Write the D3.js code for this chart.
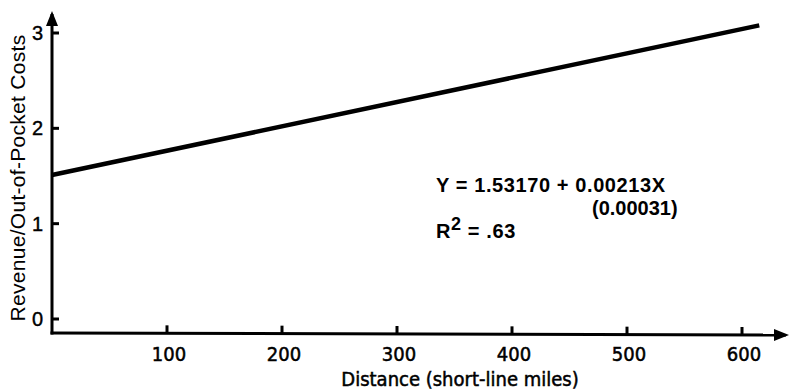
<!DOCTYPE html>
<html>
<head>
<meta charset="utf-8">
<script src="https://cdn.jsdelivr.net/npm/d3@7"></script>
<style>
  body { margin: 0; background: #fff; }
  text { fill: #000; }
</style>
</head>
<body>
<script>
// data
var xTicks = [100, 200, 300, 400, 500, 600];
var yTicks = [0, 1, 2, 3];
var fitLine = [[0, 1.51], [615, 3.08]]; // drawn regression line (distance, ratio)
var eqLines = ["Y = 1.53170 + 0.00213X", "(0.00031)"];
var r2Text = ".63";

var w = 789, h = 391;
var ox = 52, oy = 333; // axis origin

var svg = d3.select("body").append("svg")
  .attr("width", w)
  .attr("height", h);

var x = d3.scaleLinear().domain([0, 600]).range([ox, 742]);
var y = d3.scaleLinear().domain([0, 3]).range([319, 33]);

var tickFont = "'Liberation Sans Narrow', 'DejaVu Sans Condensed', Arial, sans-serif";
var bodyFont = "'Liberation Sans', Arial, Helvetica, sans-serif";

// arrow heads
var defs = svg.append("defs");
defs.append("marker")
  .attr("id", "arrow")
  .attr("viewBox", "0 0 10 10")
  .attr("refX", 8).attr("refY", 5)
  .attr("markerWidth", 5).attr("markerHeight", 5)
  .attr("markerUnits", "strokeWidth")
  .attr("orient", "auto")
  .append("path")
  .attr("d", "M0,1 L10,5 L0,9 Z")
  .attr("fill", "#000");

// axes
svg.append("line")
  .attr("x1", ox).attr("y1", oy + 1.5)
  .attr("x2", ox).attr("y2", 14)
  .attr("stroke", "#000").attr("stroke-width", 3)
  .attr("marker-end", "url(#arrow)");
svg.append("line")
  .attr("x1", ox - 1.5).attr("y1", oy)
  .attr("x2", 786).attr("y2", oy + 2)
  .attr("stroke", "#000").attr("stroke-width", 3)
  .attr("marker-end", "url(#arrow)");

// y ticks
svg.selectAll(".ytick").data(yTicks).enter().append("line")
  .attr("class", "ytick")
  .attr("x1", ox).attr("x2", ox + 7)
  .attr("y1", function(d) { return y(d); })
  .attr("y2", function(d) { return y(d); })
  .attr("stroke", "#000").attr("stroke-width", 3);
svg.selectAll(".ylab").data(yTicks).enter().append("text")
  .attr("class", "ylab")
  .attr("x", 43)
  .attr("y", function(d) { return y(d) + 7; })
  .attr("text-anchor", "end")
  .attr("font-family", bodyFont)
  .attr("font-size", "20px")
  .attr("stroke", "#000")
  .attr("stroke-width", 0.4)
  .text(function(d) { return d; });

// x ticks
svg.selectAll(".xtick").data(xTicks).enter().append("line")
  .attr("class", "xtick")
  .attr("x1", function(d) { return x(d); })
  .attr("x2", function(d) { return x(d); })
  .attr("y1", function(d) { return oy + (x(d) - ox) / 690 * 2; })
  .attr("y2", function(d) { return oy - 8 + (x(d) - ox) / 690 * 2; })
  .attr("stroke", "#000").attr("stroke-width", 3);
svg.selectAll(".xlab").data(xTicks).enter().append("text")
  .attr("class", "xlab")
  .attr("x", function(d) { return x(d) + 2; })
  .attr("y", 361)
  .attr("text-anchor", "middle")
  .attr("font-family", tickFont)
  .attr("font-size", "20px")
  .attr("stroke", "#000")
  .attr("stroke-width", 0.5)
  .text(function(d) { return d; });

// axis titles
svg.append("text")
  .attr("x", 460).attr("y", 386)
  .attr("text-anchor", "middle")
  .attr("font-family", tickFont)
  .attr("font-size", "20px")
  .attr("stroke", "#000")
  .attr("stroke-width", 0.5)
  .text("Distance (short-line miles)");
svg.append("text")
  .attr("transform", "translate(25,178) rotate(-90)")
  .attr("text-anchor", "middle")
  .attr("font-family", bodyFont)
  .attr("font-size", "21px")
  .attr("letter-spacing", "0.3px")
  .text("Revenue/Out-of-Pocket Costs");

// regression line
var line = d3.line()
  .x(function(d) { return x(d[0]); })
  .y(function(d) { return y(d[1]); });
svg.append("path")
  .datum(fitLine)
  .attr("d", line)
  .attr("fill", "none")
  .attr("stroke", "#000")
  .attr("stroke-width", 4.5);

// equation
svg.append("text")
  .attr("x", 436).attr("y", 192)
  .attr("font-family", bodyFont)
  .attr("font-weight", "bold")
  .attr("font-size", "20px")
  .attr("letter-spacing", "0.6px")
  .text(eqLines[0]);
svg.append("text")
  .attr("x", 592).attr("y", 215)
  .attr("font-family", bodyFont)
  .attr("font-weight", "bold")
  .attr("font-size", "20px")
  .text(eqLines[1]);
var r2 = svg.append("text")
  .attr("x", 436).attr("y", 238)
  .attr("font-family", bodyFont)
  .attr("font-weight", "bold")
  .attr("font-size", "20px")
  .attr("letter-spacing", "0.6px");
r2.append("tspan").text("R");
r2.append("tspan").attr("dy", -8).attr("font-size", "18px").text("2");
r2.append("tspan").attr("dy", 8).text(" = " + r2Text);
</script>
</body>
</html>
